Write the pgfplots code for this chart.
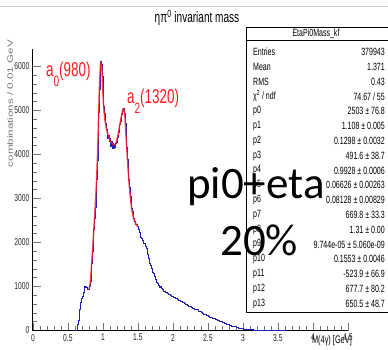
\documentclass[border=0pt]{standalone}
\usepackage{pgfplots}
\pgfplotsset{compat=1.18}
\usepackage{graphicx}
\usepackage{fontspec}
\setmainfont{Liberation Sans}
\newfontfamily\rootfont[FakeStretch=0.67]{Liberation Sans}
\newfontfamily\plainfont{Liberation Sans}
\newfontfamily\bigfont{Carlito}
\definecolor{histblue}{rgb}{0.12,0.12,0.72}
\definecolor{fitred}{rgb}{0.98,0.1,0.12}
\newcommand{\statfont}{\fontsize{10.5}{11}\rootfont}
\newcommand{\statrow}[3]{%
  \node[anchor=west,inner sep=0] at (253,{349-#1}) {\statfont #2};
  \node[anchor=east,inner sep=0] at (385,{349-#1}) {\statfont #3};}
\begin{document}
\begin{tikzpicture}[x=1pt,y=1pt]
\draw[black!20, line width=0.8pt] (0,343) -- (388,343);
\begin{axis}[
  at={(47,42)}, anchor=south west,
  scale only axis, width=315pt, height=281.6pt,
  xmin=0, xmax=4.5, ymin=0, ymax=6400,
  axis x line*=bottom, axis y line*=left,
  axis line style={-, black, line width=0.8pt},
  tick align=inside,
  xtick={0,0.5,1,1.5,2,2.5,3,3.5,4,4.5},
  ytick={0,1000,2000,3000,4000,5000,6000},
  minor x tick num=4, minor y tick num=4,
  major tick length=8pt, minor tick length=4.5pt,
  every tick/.style={black!55, line width=0.7pt},
  scaled y ticks=false,
  /pgf/number format/1000 sep={},
  /pgf/number format/assume math mode=true,
  tick label style={font=\fontsize{10}{11}\rootfont, text=black!85},
]
\addplot[const plot, histblue, line width=0.7pt] table {
0.60 0
0.62 0
0.63 40
0.64 130
0.65 240
0.66 350
0.67 470
0.68 640
0.69 720
0.70 760
0.71 775
0.72 860
0.73 975
0.74 995
0.75 985
0.76 1005
0.77 990
0.78 935
0.79 925
0.80 955
0.81 1010
0.82 1110
0.83 1310
0.84 1520
0.85 1790
0.86 2020
0.87 2290
0.88 2550
0.89 2790
0.90 3110
0.91 3440
0.92 3860
0.93 4330
0.94 4960
0.95 5480
0.96 5900
0.97 6110
0.98 6040
0.99 5780
1.00 5430
1.01 5100
1.02 4930
1.03 4760
1.04 4700
1.05 4580
1.06 4500
1.07 4370
1.08 4430
1.09 4290
1.10 4360
1.11 4190
1.12 4300
1.13 4140
1.14 4260
1.15 4130
1.16 4230
1.17 4170
1.18 4260
1.19 4270
1.20 4350
1.21 4400
1.22 4500
1.23 4560
1.24 4680
1.25 4760
1.26 4850
1.27 4920
1.28 5000
1.29 5060
1.30 5020
1.31 4930
1.32 4700
1.33 4430
1.34 4170
1.35 3880
1.36 3680
1.37 3430
1.38 3250
1.39 3050
1.40 2920
1.41 2780
1.42 2700
1.43 2600
1.44 2560
1.45 2490
1.46 2470
1.47 2420
1.48 2410
1.49 2370
1.50 2340
1.51 2310
1.52 2240
1.53 2190
1.54 2110
1.55 2090
1.56 2050
1.57 2040
1.58 1980
1.59 1970
1.60 1930
1.61 1910
1.62 1860
1.63 1800
1.64 1730
1.65 1650
1.66 1610
1.67 1530
1.68 1490
1.69 1410
1.70 1390
1.71 1320
1.72 1300
1.73 1240
1.74 1230
1.75 1160
1.76 1140
1.77 1090
1.78 1070
1.79 1030
1.80 1020
1.81 990
1.82 1000
1.83 960
1.84 955
1.85 930
1.86 925
1.87 900
1.88 895
1.89 870
1.90 865
1.92 835
1.94 825
1.96 795
1.98 785
2.00 760
2.02 750
2.04 720
2.06 715
2.08 690
2.10 670
2.12 660
2.14 630
2.16 610
2.18 600
2.20 575
2.22 560
2.24 545
2.26 520
2.28 510
2.30 490
2.32 475
2.34 470
2.36 440
2.38 430
2.40 405
2.42 395
2.44 370
2.46 360
2.48 340
2.50 330
2.52 310
2.54 300
2.56 285
2.58 270
2.60 255
2.62 245
2.64 230
2.66 215
2.68 205
2.70 190
2.72 175
2.74 165
2.76 150
2.78 140
2.80 125
2.82 118
2.84 105
2.86 98
2.88 88
2.90 78
2.92 70
2.94 60
2.96 52
2.98 45
3.00 38
3.05 28
3.10 20
3.15 15
3.20 11
3.25 8
3.30 6
3.35 4
3.40 3
3.45 2
3.50 2
3.55 1
3.60 0
};
\addplot[smooth, fitred, line width=1.4pt, opacity=0.85] table {
0.80 930
0.81 1000
0.82 1100
0.83 1300
0.84 1530
0.85 1780
0.86 2030
0.87 2280
0.88 2540
0.89 2800
0.90 3100
0.91 3450
0.92 3850
0.93 4350
0.94 4950
0.95 5500
0.96 5880
0.97 6080
0.98 6060
0.99 5800
1.00 5420
1.01 5120
1.02 4920
1.03 4780
1.04 4680
1.06 4520
1.08 4420
1.10 4340
1.12 4280
1.14 4240
1.16 4220
1.18 4240
1.20 4330
1.22 4480
1.24 4660
1.26 4840
1.28 4990
1.29 5040
1.30 5030
1.31 4940
1.32 4720
1.33 4440
1.34 4160
1.35 3900
1.36 3660
1.37 3440
1.38 3240
1.39 3060
1.40 2910
1.41 2790
1.42 2690
1.43 2610
1.44 2550
1.45 2500
1.46 2460
1.47 2430
1.48 2400
1.49 2380
1.50 2360
};
\end{axis}
% title
\node[inner sep=0] at (197,331) {\fontsize{15}{16}\rootfont ηπ\textsuperscript{0} invariant mass};
% y label
\node[anchor=east, rotate=90, inner sep=0, text=black!55] at (10,309) {\scalebox{1}[0.67]{\fontsize{11.6}{12}\plainfont combinations / 0.01 GeV}};
% x label
\node[anchor=east, inner sep=0] at (352,8) {\fontsize{11}{12}\rootfont M(4γ) [GeV]};
% resonance labels
\node[anchor=base west, inner sep=0, text=fitred] at (46,273) {\fontsize{20}{21}\rootfont a\raisebox{-10pt}{\fontsize{15}{16}\rootfont 0}(980)};
\node[anchor=base west, inner sep=0, text=fitred] at (127,246) {\fontsize{20}{21}\rootfont a\raisebox{-10pt}{\fontsize{15}{16}\rootfont 2}(1320)};
% stats box
\fill[white] (246,36.5) rectangle (392,322);
\draw[black, line width=0.8pt] (246,36.5) rectangle (392,322);
\draw[black, line width=0.6pt] (246,309) -- (392,309);
\node[inner sep=0] at (316,315.5) {\statfont EtaPi0Mass\_kf};
\statrow{52}{Entries}{379943}
\statrow{66.8}{Mean}{1.371}
\statrow{81.6}{RMS}{0.43}
\statrow{96.4}{χ\textsuperscript{2} / ndf}{74.67 / 55}
\statrow{111.2}{p0}{2503 ± 76.8}
\statrow{126}{p1}{1.108 ± 0.005}
\statrow{140.8}{p2}{0.1298 ± 0.0032}
\statrow{155.6}{p3}{491.6 ± 38.7}
\statrow{170.4}{p4}{0.9928 ± 0.0006}
\statrow{185.2}{p5}{0.06626 ± 0.00263}
\statrow{200}{p6}{0.08128 ± 0.00829}
\statrow{214.8}{p7}{669.8 ± 33.3}
\statrow{229.6}{p8}{1.31 ± 0.00}
\statrow{244.4}{p9}{9.744e-05 ± 5.060e-09}
\statrow{259.2}{p10}{0.1553 ± 0.0046}
\statrow{274}{p11}{-523.9 ± 66.9}
\statrow{288.8}{p12}{677.7 ± 80.2}
\statrow{303.6}{p13}{650.5 ± 48.7}
% overlay text
\node[anchor=base west, inner sep=0] at (187,151) {\fontsize{45}{47}\bigfont pi0+eta};
\node[anchor=base west, inner sep=0] at (220,94) {\fontsize{45}{47}\bigfont 20\%};
\pgfresetboundingbox
\path[use as bounding box] (0,0) rectangle (388,349);
\end{tikzpicture}
\end{document}
